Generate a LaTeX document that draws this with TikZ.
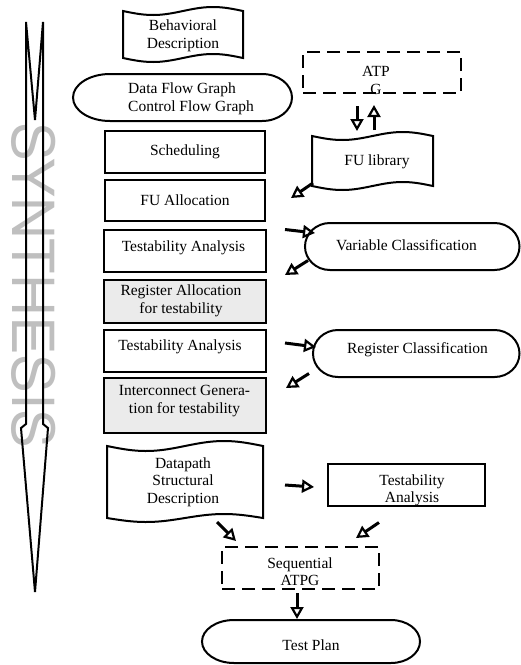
\documentclass[tikz,border=0pt]{standalone}
\usepackage{fontspec}
\setmainfont{Liberation Serif}
\newfontfamily\herosfont{TeX Gyre Heros}
\usetikzlibrary{arrows.meta}
\newcommand\dtxt{\fontsize{15.5}{17.5}\selectfont}
\begin{document}
\begin{tikzpicture}[x=1pt,y=-1pt,
  box/.style={draw,line width=2pt,inner sep=0pt},
  gbox/.style={box,fill=black!8},
  dbox/.style={draw,line width=2.2pt,dash pattern=on 13pt off 7pt,inner sep=0pt},
  edge/.style={draw,line width=2pt},
  lbl/.style={font=\dtxt,align=center,inner sep=0pt},
  arr/.style={line width=3pt,-{Triangle[open,length=12pt,width=13pt,line width=2.2pt]}},
  brk/.style={line width=2pt,line join=miter}]
\useasboundingbox (0,0) rectangle (521,665);

% SYNTHESIS bracket
\node[rotate=-90,text=black!25,font=\herosfont\fontsize{58}{58}\selectfont,inner sep=0pt] (synth) at (34,285.5) {SYNTHESIS};
\draw[brk] (26,424) -- (26,22) -- (35,120) -- (43,22) -- (43,424) -- (48,428) -- (35,592) -- (21,428) -- cycle;

% Behavioral Description (tape)
\draw[edge] plot[domain=123:243,samples=40] (\x,{11+4*sin(3*(\x-123))}) -- plot[domain=243:123,samples=40] (\x,{58+4*sin(3*(\x-123))}) -- cycle;
\node[lbl] (bd) at (183,36) {Behavioral\\Description};

% Data Flow Graph stadium
\draw[edge] (110,74) -- (262,74) arc[start angle=90,end angle=-90,x radius=30pt,y radius=23.5pt] -- (110,121) arc[start angle=270,end angle=90,x radius=37pt,y radius=23.5pt] -- cycle;
\node[lbl,align=left,anchor=west] (dfg) at (128,99) {Data Flow Graph\\Control Flow Graph};

% column boxes
\node[box,minimum width=160pt,minimum height=42pt,font=\dtxt] (sched) at (185,152) {Scheduling};
\node[box,minimum width=160pt,minimum height=41pt,font=\dtxt] (fua) at (185,200.5) {FU Allocation};
\node[box,minimum width=162pt,minimum height=42pt] (ta1) at (185,251) {};
\node[lbl] (ta1t) at (183.5,248) {Testability Analysis};
\node[gbox,minimum width=162pt,minimum height=43pt] (ra) at (185,301.5) {};
\node[lbl] (rat) at (181,301) {Register Allocation\\for testability};
\node[box,minimum width=162pt,minimum height=42pt] (ta2) at (185,351) {};
\node[lbl] (ta2t) at (180,347) {Testability Analysis};
\node[gbox,minimum width=162pt,minimum height=55pt] (icg) at (185,405.5) {};
\node[lbl] (icgt) at (184.5,401) {Interconnect Genera-\\tion for testability};

% Datapath tape
\draw[edge] plot[domain=107:263,samples=50] (\x,{446+5*sin(2.3077*(\x-107))}) -- plot[domain=263:107,samples=50] (\x,{518+4*sin(2.3077*(\x-107))}) -- cycle;
\node[lbl] (dp) at (183,482) {Datapath\\Structural\\Description};

% ATPG dashed box
\node[dbox,minimum width=158pt,minimum height=41pt] (atpg) at (382,72.5) {};
\node[lbl] (atpgt) at (376,80.5) {ATP\\G};

% FU library tape
\draw[edge] plot[domain=312:433,samples=40] (\x,{136+4*sin(2.975*(\x-312))}) -- plot[domain=433:312,samples=40] (\x,{186+4*sin(2.975*(\x-312))}) -- cycle;
\node[lbl] (ful) at (377,162) {FU library};

% Variable Classification stadium
\draw[edge] (330,223) -- (494.5,223) arc[start angle=90,end angle=-90,x radius=25pt,y radius=23.5pt] -- (330,270) arc[start angle=270,end angle=90,x radius=25pt,y radius=23.5pt] -- cycle;
\node[lbl] (vc) at (406.5,245) {Variable Classification};

% Register Classification stadium
\draw[edge] (338,330) -- (494.5,330) arc[start angle=90,end angle=-90,x radius=25pt,y radius=23.5pt] -- (338,377) arc[start angle=270,end angle=90,x radius=25pt,y radius=23.5pt] -- cycle;
\node[lbl] (rc) at (417.5,350) {Register Classification};

% bottom Testability Analysis box
\node[box,minimum width=157pt,minimum height=42pt] (ta3) at (406.5,485) {};
\node[lbl] (ta3t) at (412,490.5) {Testability\\Analysis};

% Sequential ATPG dashed box
\node[dbox,minimum width=157pt,minimum height=42pt] (seq) at (300.5,568) {};
\node[lbl] (seqt) at (300,571.5) {Sequential\\ATPG};

% Test Plan stadium
\draw[edge] (234,620) -- (391,620) arc[start angle=90,end angle=-90,x radius=29pt,y radius=21.5pt] -- (234,663) arc[start angle=270,end angle=90,x radius=32pt,y radius=21.5pt] -- cycle;
\node[lbl] (tp) at (311,645) {Test Plan};

% arrows
\coordinate (a1s) at (357,106); \coordinate (a1e) at (357,131);
\coordinate (a2s) at (374,130); \coordinate (a2e) at (374,105);
\coordinate (a3s) at (313,183); \coordinate (a3e) at (291,198);
\coordinate (a4s) at (285,229.5); \coordinate (a4e) at (315,233);
\coordinate (a5s) at (308,260.5); \coordinate (a5e) at (285,275);
\coordinate (a6s) at (285,343); \coordinate (a6e) at (316,347);
\coordinate (a7s) at (309,373.5); \coordinate (a7e) at (286,388);
\coordinate (a8s) at (285,485); \coordinate (a8e) at (314,487);
\coordinate (a9s) at (379,522.5); \coordinate (a9e) at (356,538);
\coordinate (a10s) at (217,522) ; \coordinate (a10e) at (236,541);
\coordinate (a11s) at (297,593); \coordinate (a11e) at (297,619);
\foreach \i in {1,...,11} {\draw[arr] (a\i s) -- (a\i e);}
\end{tikzpicture}
\end{document}
